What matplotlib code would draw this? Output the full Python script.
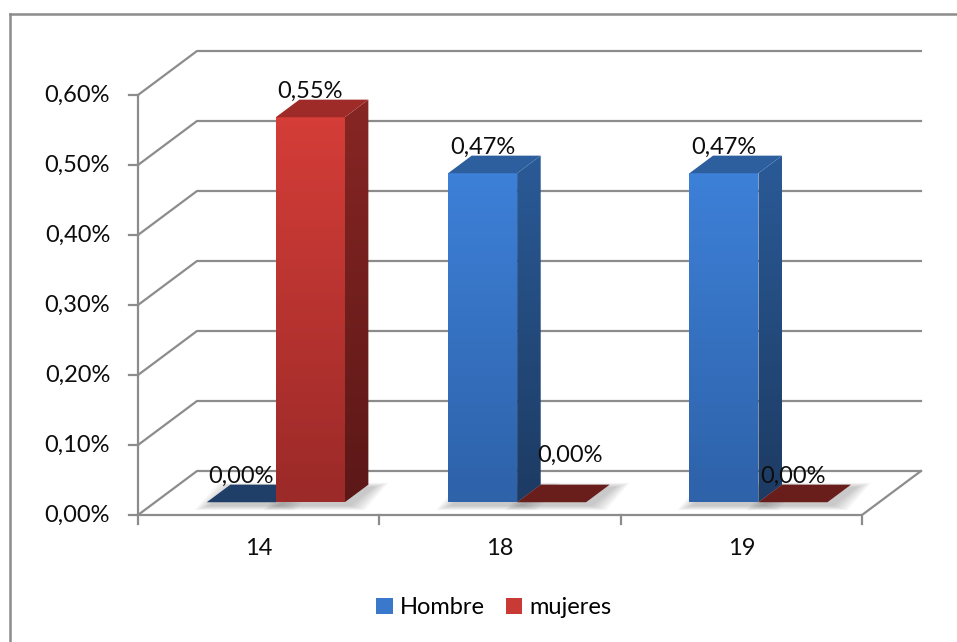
import numpy as np
import matplotlib.pyplot as plt
from matplotlib.patches import Polygon, Patch
from matplotlib.colors import LinearSegmentedColormap
from matplotlib.lines import Line2D

plt.rcParams['font.family'] = ['Lato', 'DejaVu Sans']

categories = ['14', '18', '19']
hombre = [0.00, 0.47, 0.47]
mujeres = [0.55, 0.00, 0.00]
yticks = [0.0, 0.1, 0.2, 0.3, 0.4, 0.5, 0.6]
series_names = ['Hombre', 'mujeres']

# scale of the plot: pixels per category and per percent point
PX_X = 241.33
PX_Y = 700.0
X0, Y0 = 138, 515
W, H = 957, 642

# oblique depth of the walls, in data units
DX = 59 / PX_X
DY = 44 / PX_Y
BAR_W = 69 / PX_X
GAP = (1 - 2 * BAR_W) / 2
F_FRONT = 0.29
F_DEPTH = 0.40

GRID = '#8c8c8c'
FS = 17

styles = [
    dict(front=('#3d80d8', '#2e62a9'), side=('#2a5a97', '#1d3b63'),
         top='#2d5f9f', flat='#1f3e68', legend='#3a78cc'),
    dict(front=('#d43d38', '#9b2a28'), side=('#872624', '#5c1817'),
         top='#9e2b28', flat='#6a1e1c', legend='#c93a37'),
]


def shade(ax, verts, c_top, c_bot, z):
    verts = np.array(verts)
    poly = Polygon(verts, closed=True, facecolor='none', edgecolor='none')
    ax.add_patch(poly)
    cmap = LinearSegmentedColormap.from_list('face', [c_bot, c_top])
    grad = np.linspace(0, 1, 64).reshape(-1, 1)
    im = ax.imshow(grad, cmap=cmap, origin='lower', aspect='auto',
                   extent=(verts[:, 0].min(), verts[:, 0].max(),
                           verts[:, 1].min(), verts[:, 1].max()),
                   interpolation='bilinear', zorder=z)
    im.set_clip_path(poly)


def fmt(v):
    return ('%.2f%%' % v).replace('.', ',')


fig = plt.figure(figsize=(W / 100, H / 100), dpi=100)
ax = fig.add_axes([0, 0, 1, 1])
ax.set_autoscale_on(False)

# side wall and back wall grid
ncat = len(categories)
for v in yticks:
    ax.plot([0, DX, ncat + DX], [v, v + DY, v + DY], color=GRID, lw=1.6,
            solid_joinstyle='miter', zorder=1)
    ax.plot([-9 / PX_X, 0], [v, v], color=GRID, lw=1.6, zorder=1)
    ax.annotate(fmt(v), xy=(0, v), xytext=(-20, 0), textcoords='offset points',
                ha='right', va='center', fontsize=FS, color='#0d0d0d')

# front axis and floor edge
ax.plot([0, 0], [0, yticks[-1]], color=GRID, lw=1.6, zorder=1)
ax.plot([0, ncat, ncat + DX], [0, 0, DY], color=GRID, lw=1.6,
        solid_joinstyle='miter', zorder=1)
for i in range(ncat + 1):
    ax.plot([i, i], [0, -9 / PX_Y], color=GRID, lw=1.6, zorder=1)
for i, c in enumerate(categories):
    ax.annotate(c, xy=(i + 0.5, 0), xytext=(0, -24), textcoords='offset points',
                ha='center', va='center', fontsize=FS, color='#0d0d0d')

ddx, ddy = F_DEPTH * DX, F_DEPTH * DY
nudge = {(1, 1): (0.075, 0.031)}

for i in range(ncat):
    for j, vals in enumerate([hombre, mujeres]):
        v = vals[i]
        st = styles[j]
        xl = i + GAP + j * BAR_W + F_FRONT * DX
        xr = xl + BAR_W
        yb = F_FRONT * DY
        foot = np.array([(xl, yb), (xr, yb), (xr + ddx, yb + ddy), (xl + ddx, yb + ddy)])

        # soft shadow on the floor
        for k in range(8, 0, -1):
            ex = k * 2.0 / PX_X
            ey = k * 0.6 / PX_Y
            sh = foot + np.array([[-ex, -ey], [ex, -ey], [ex, ey], [-ex, ey]])
            sh = sh + np.array([4 / PX_X, -3 / PX_Y])
            ax.add_patch(Polygon(sh, closed=True, facecolor='#7a7a7a',
                                 edgecolor='none', alpha=0.06, zorder=2))

        if v <= 0:
            ax.add_patch(Polygon(foot, closed=True, facecolor=st['flat'],
                                 edgecolor='none', zorder=3 + i))
        else:
            shade(ax, [(xl, yb), (xr, yb), (xr, yb + v), (xl, yb + v)],
                  st['front'][0], st['front'][1], 3 + i)
            shade(ax, [(xr, yb), (xr + ddx, yb + ddy), (xr + ddx, yb + ddy + v), (xr, yb + v)],
                  st['side'][0], st['side'][1], 3 + i)
            ax.add_patch(Polygon([(xl, yb + v), (xr, yb + v), (xr + ddx, yb + v + ddy),
                                  (xl + ddx, yb + v + ddy)], closed=True,
                                 facecolor=st['top'], edgecolor='none', zorder=3 + i))

        nx, ny = nudge.get((i, j), (0, 0))
        ax.annotate(fmt(v), xy=(xl + BAR_W / 2 + nx, yb + v + ddy + ny),
                    xytext=(0, 1), textcoords='offset points',
                    ha='center', va='baseline', fontsize=FS, color='#0d0d0d',
                    zorder=10)

ax.set_xlim(-X0 / PX_X, (W - X0) / PX_X)
ax.set_ylim((Y0 - H) / PX_Y, Y0 / PX_Y)
ax.axis('off')

# chart border
bx, by = 10 / W, 1 - 14 / H
fig.add_artist(Line2D([bx, bx], [0, by], color=GRID, lw=1.8))
fig.add_artist(Line2D([bx, 1], [by, by], color=GRID, lw=1.8))

handles = [Patch(facecolor=s['legend'], edgecolor='none') for s in styles]
fig.legend(handles, series_names, loc='center', bbox_to_anchor=(0.516, 0.053),
           ncol=2, frameon=False, fontsize=FS, handlelength=0.7,
           handleheight=0.7, handletextpad=0.3, columnspacing=0.9)

fig.savefig('out.png', dpi=100)
